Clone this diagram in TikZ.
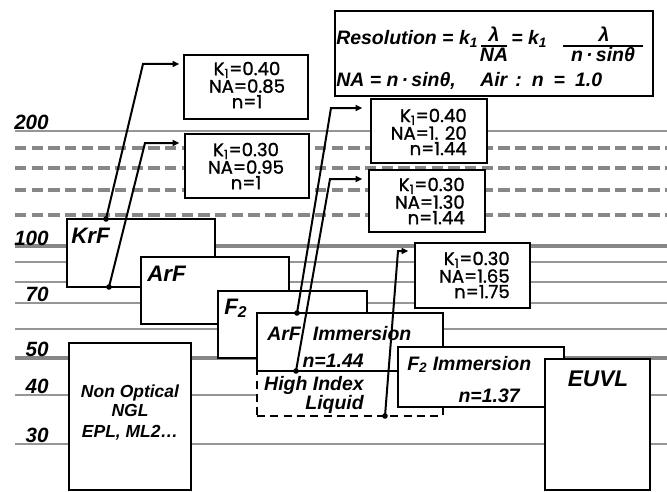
\documentclass[tikz,border=0pt]{standalone}
\usepackage{fontspec}
\setmainfont{Liberation Sans}
\newfontfamily\infofont[FakeBold=1.2]{Poppins}
\usetikzlibrary{arrows.meta,fit}
\definecolor{gthin}{RGB}{150,150,150}
\definecolor{gthick}{RGB}{135,135,135}
\begin{document}
\begin{tikzpicture}[x=0.75pt,y=-0.75pt,
  hl/.style={draw=gthin, line width=1.6pt},
  hlthick/.style={draw=gthick, line width=3pt},
  hldash/.style={draw=gthick, line width=2.3pt, dash pattern=on 8.5pt off 4pt},
  mainbox/.style={draw=black, fill=white, line width=1.5pt, inner sep=0pt},
  dbox/.style={draw=black, fill=white, line width=1.5pt, inner sep=0pt, dash pattern=on 6pt off 4pt},
  infobox/.style={draw=black, fill=white, line width=1.1pt, inner sep=0pt},
  lbl/.style={font=\fontsize{16.8}{19}\selectfont\bfseries\itshape, inner sep=0pt},
  axl/.style={font=\fontsize{15.5}{18}\selectfont\bfseries\itshape, inner sep=0pt},
  midl/.style={font=\fontsize{14.6}{17}\selectfont\bfseries\itshape, inner sep=0pt},
  smalll/.style={font=\fontsize{13.1}{15}\selectfont\bfseries\itshape, inner sep=0pt},
  bigl/.style={font=\fontsize{17}{20}\selectfont\bfseries\itshape, inner sep=0pt},
  form/.style={font=\fontsize{14.6}{17}\selectfont\bfseries\itshape, inner sep=0pt},
  infotxt/.style={font=\infofont\fontsize{13.6}{11.6}\selectfont, inner sep=0pt},
  conn/.style={draw=black, line width=1.5pt, -{Triangle[length=5pt,width=4.5pt]}},
  dot/.style={fill=black}
]
\useasboundingbox (0,0) rectangle (667,492);
% horizontal scale lines
\foreach \y in {131,262,282,303,329,395,444} \draw[hl] (15,\y) -- (667,\y);
\foreach \y in {246,358} \draw[hlthick] (15,\y) -- (667,\y);
\foreach \y in {148,168,190,215} \draw[hldash] (15,\y) -- (667,\y);
% axis labels
\node[axl, anchor=base east] (a200) at (49,129) {200};
\node[axl, anchor=base east] (a100) at (49,245) {100};
\node[axl, anchor=base east] (a70) at (49,301) {70};
\node[axl, anchor=base east] (a50) at (49,356) {50};
\node[axl, anchor=base east] (a40) at (49,393) {40};
\node[axl, anchor=base east] (a30) at (49,442) {30};
% technology boxes
\node[mainbox, fit={(67,219) (215,287)}] (krf) {};
\node[mainbox, fit={(141,257) (289,324)}] (arf) {};
\node[mainbox, fit={(218,291) (367,358)}] (f2) {};
\node[dbox, fit={(257,371) (443,416)}] (hil) {};
\node[mainbox, fit={(257,313) (443,371)}] (arfi) {};
\node[mainbox, fit={(398,347) (564,407)}] (f2i) {};
\node[mainbox, fit={(545,359) (650,490)}] (euvl) {};
\node[mainbox, fit={(69,343) (191,490)}] (nonopt) {};
% labels in boxes
\node[lbl, anchor=base west] (tkrf) at (71,243) {KrF};
\node[lbl, anchor=base west] (tarf) at (147,281) {ArF};
\node[lbl, anchor=base west] (tf2) at (224,314) {F\textsubscript{2}};
\node[midl, anchor=base west] (tai) at (267,340) {ArF\hspace{5pt} Immersion};
\node[midl, anchor=base east] (tain) at (364,367) {n=1.44};
\node[midl, anchor=base east] (thi1) at (364,390) {High Index};
\node[midl, anchor=base east] (thi2) at (364,409) {Liquid};
\node[midl, anchor=base west] (tfi) at (407,370) {F\textsubscript{2} Immersion};
\node[midl, anchor=base east] (tfin) at (520,402) {n=1.37};
\node[bigl, anchor=base] (teuvl) at (598,386) {EUVL};
\node[smalll, anchor=base] (tno1) at (130,397) {Non Optical};
\node[smalll, anchor=base] (tno2) at (130,416) {NGL};
\node[smalll, anchor=base] (tno3) at (130,437) {EPL, ML2…};
% info boxes
\node[infobox, fit={(184,55) (308,119)}] (b1) {};
\node[infobox, fit={(185,134) (309,198)}] (b2) {};
\node[infobox, fit={(371,99) (487,163)}] (b3) {};
\node[infobox, fit={(369,170) (485,232)}] (b4) {};
\node[infobox, fit={(415,243) (530,308)}] (b5) {};
\node[infotxt, align=center] (t1) at (247,85) {K\textsubscript{1}=0.40\\NA=0.85\\n=1};
\node[infotxt, align=center] (t2) at (246,166) {K\textsubscript{1}=0.30\\NA=0.95\\n=1};
\node[infotxt, align=right, anchor=east] (t3) at (467,132) {K\textsubscript{1}=0.40\\NA=1. 20\\n=1.44};
\node[infotxt, align=right, anchor=east] (t4) at (465,201) {K\textsubscript{1}=0.30\\NA=1.30\\n=1.44};
\node[infotxt, align=right, anchor=east] (t5) at (510,275) {K\textsubscript{1}=0.30\\NA=1.65\\n=1.75};
% formula box
\node[infobox, fit={(335,11) (653,96)}] (fb) {};
\node[form, anchor=base west] (fr1) at (336,45) {Resolution = k\textsubscript{1}};
\node[form, anchor=base] (fn1) at (494,42) {λ};
\node[form, anchor=base] (fd1) at (494,62) {NA};
\draw[line width=1.2pt] (481,46) -- (507,46);
\node[form, anchor=base west] (fr2) at (511,45) {= k\textsubscript{1}};
\node[form, anchor=base] (fn2) at (604,42) {λ};
\node[form, anchor=base] (fd2) at (603,62) {n\,·\,sinθ};
\draw[line width=1.2pt] (563,46) -- (643,46);
\node[form, anchor=base west] (fl2a) at (336,87) {NA = n\,·\,sinθ,};
\node[form, anchor=base west] (fl2b) at (480,87) {Air\hspace{6pt}:\hspace{7.5pt}n\hspace{7.5pt}=\hspace{7.5pt}1.0};
% connector points
\coordinate (d1) at (106,219);
\coordinate (d2) at (109,287);
\coordinate (d3) at (297,313);
\coordinate (d4) at (296,371);
\coordinate (d5) at (385,416);
\coordinate (c1) at (143,64);
\coordinate (c2) at (145,143);
\coordinate (c3) at (331,108);
\coordinate (c4) at (330,179);
\coordinate (c5) at (398,251);
\draw[conn, shorten >=3pt] (d1) -- (c1) -- (c1 -| b1.west);
\draw[conn, shorten >=3.7pt] (d2) -- (c2) -- (c2 -| b2.west);
\draw[conn, shorten >=6pt] (d3) -- (c3) -- (c3 -| b3.west);
\draw[conn, shorten >=4.5pt] (d4) -- (c4) -- (c4 -| b4.west);
\draw[conn, shorten >=4.5pt] (d5) -- (c5) -- (c5 -| b5.west);
\foreach \d in {d1,d2,d3,d4,d5} \fill[dot] (\d) circle (2.1pt);
\end{tikzpicture}
\end{document}
